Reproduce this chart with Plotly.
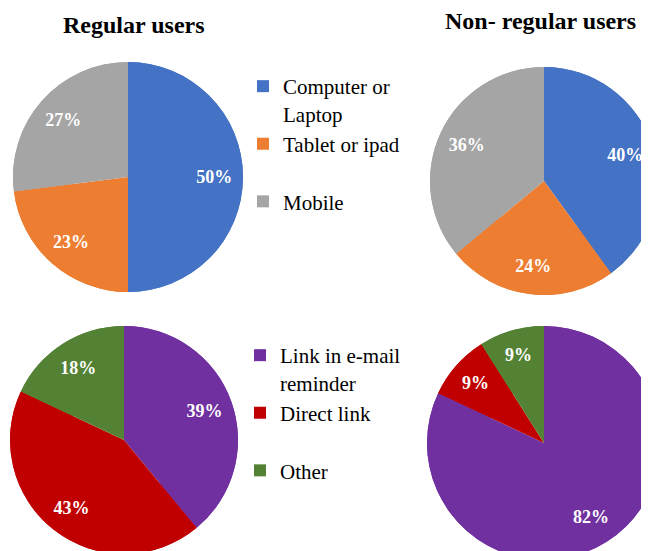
"""Four pie charts: device and access route for regular vs non-regular users."""

import plotly.graph_objects as go

# figure is a little larger than the window so the right-hand pies get clipped
FIG_W, FIG_H = 680, 580

DEVICE_LABELS = ["Computer or<br>Laptop", "Tablet or ipad", "Mobile"]
DEVICE_COLORS = ["#4472C4", "#ED7D31", "#A5A5A5"]
DEVICE_REGULAR = [50, 23, 27]
DEVICE_NON_REGULAR = [40, 24, 36]

ACCESS_LABELS = ["Link in e-mail<br>reminder", "Direct link", "Other"]
ACCESS_COLORS = ["#7030A0", "#C00000", "#548235"]
ACCESS_REGULAR = [39, 43, 18]
ACCESS_NON_REGULAR = [82, 9, 9]

TITLES = ["Regular users", "Non- regular users"]

SERIF = "Liberation Serif"

# pixel boxes (left, top, size) for each pie, converted to paper domains
_PIE_BOXES = {
    "tl": (5, 54, 230),
    "tr": (422, 59, 228),
    "bl": (2, 318, 228),
    "br": (419, 318, 234),
}

# extra blank lines so legend entries spread out like the original
_LEGEND_PAD = {"Tablet or ipad": 1, "Direct link": 1}

# the percentage labels ride on an identical ring drawn over the pie,
# which pushes them out towards the rim like in the original
_LABEL_RING_HOLE = 0.5


def _px_x(x):
    return x / FIG_W


def _px_y(y):
    return 1 - y / FIG_H


def _domain(key):
    left, top, size = _PIE_BOXES[key]
    return {
        "x": [_px_x(left), _px_x(left + size)],
        "y": [_px_y(top + size), _px_y(top)],
    }


def _padded(labels):
    return [lab + "<br> " * _LEGEND_PAD.get(lab, 0) for lab in labels]


def _pie(key, labels, values, colors, legend, showlegend):
    return go.Pie(
        labels=_padded(labels),
        values=values,
        domain=_domain(key),
        sort=False,
        direction="clockwise",
        rotation=0,
        marker={"colors": colors},
        textinfo="none",
        legend=legend,
        showlegend=showlegend,
        hovertemplate="%{label}: %{value}%<extra></extra>",
    )


def _pie_labels(key, labels, values, colors, legend):
    return go.Pie(
        labels=_padded(labels),
        values=values,
        domain=_domain(key),
        hole=_LABEL_RING_HOLE,
        sort=False,
        direction="clockwise",
        rotation=0,
        marker={"colors": colors},
        textinfo="percent",
        texttemplate="%{percent:.0%}",
        textposition="inside",
        insidetextorientation="horizontal",
        textfont={"family": SERIF, "size": 18, "color": "white", "weight": "bold"},
        legend=legend,
        showlegend=False,
        hoverinfo="skip",
    )


PIES = [
    ("tl", DEVICE_LABELS, DEVICE_REGULAR, DEVICE_COLORS, "legend", True),
    ("tr", DEVICE_LABELS, DEVICE_NON_REGULAR, DEVICE_COLORS, "legend", False),
    ("bl", ACCESS_LABELS, ACCESS_REGULAR, ACCESS_COLORS, "legend2", True),
    ("br", ACCESS_LABELS, ACCESS_NON_REGULAR, ACCESS_COLORS, "legend2", False),
]

fig = go.Figure()
for key, labels, values, colors, legend, showlegend in PIES:
    fig.add_trace(_pie(key, labels, values, colors, legend, showlegend))
    fig.add_trace(_pie_labels(key, labels, values, colors, legend))

legend_style = {
    "font": {"family": SERIF, "size": 21, "color": "black"},
    "valign": "top",
    "xanchor": "left",
    "yanchor": "top",
    "bgcolor": "rgba(0,0,0,0)",
    "traceorder": "normal",
}


def _title(text, x, y):
    return {
        "text": f"<b>{text}</b>",
        "x": _px_x(x),
        "y": _px_y(y),
        "xref": "paper",
        "yref": "paper",
        "xanchor": "center",
        "yanchor": "middle",
        "showarrow": False,
        "font": {"family": SERIF, "size": 24, "color": "black"},
    }


fig.update_layout(
    width=FIG_W,
    height=FIG_H,
    margin=dict(l=0, r=0, t=0, b=0),
    font={"family": SERIF, "color": "black"},
    paper_bgcolor="white",
    plot_bgcolor="white",
    legend={**legend_style, "x": _px_x(235), "y": _px_y(58)},
    legend2={**legend_style, "x": _px_x(232), "y": _px_y(327)},
    annotations=[_title(TITLES[0], 126, 17), _title(TITLES[1], 532, 13)],
)

fig.write_html("out.html")
